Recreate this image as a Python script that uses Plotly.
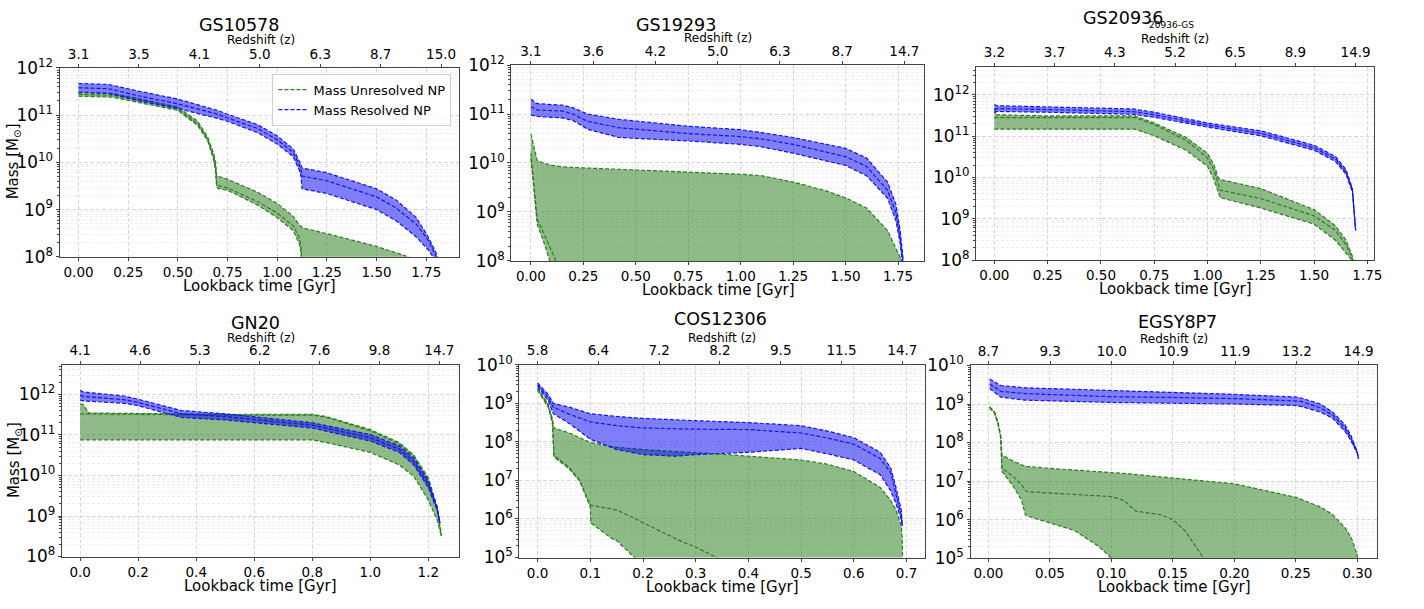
import numpy as np
import plotly.graph_objects as go

W, H = 1424, 609
FONT = "DejaVu Sans"

# ---------------- data (log10 of mass in Msun vs lookback time in Gyr) ----------------
# GS10578
t1g = [0, 0.17, 0.3, 0.5, 0.6, 0.65, 0.68, 0.69, 0.695, 0.70, 0.75, 0.9, 1.0, 1.08, 1.11, 1.12, 1.125, 1.13, 1.25, 1.5, 1.66, 1.75]
g1_hi = [11.48, 11.46, 11.35, 11.17, 10.87, 10.53, 10.19, 10.0, 9.72, 9.71, 9.64, 9.37, 9.13, 8.86, 8.68, 8.63, 8.62, 8.61, 8.49, 8.22, 8.0, 7.85]
g1_med = [11.44, 11.42, 11.31, 11.13, 10.82, 10.49, 10.12, 9.9, 9.55, 9.51, 9.46, 9.17, 8.93, 8.66, 8.42, 8.2, 7.6, 6.0, 5, 5, 5, 5]
g1_lo = [11.40, 11.38, 11.27, 11.10, 10.78, 10.46, 10.05, 9.8, 9.47, 9.45, 9.41, 9.10, 8.83, 8.56, 8.29, 8.1, 7.5, 6.0, 5, 5, 5, 5]
t1b = [0, 0.15, 0.3, 0.5, 0.7, 0.75, 0.9, 1.0, 1.08, 1.11, 1.12, 1.125, 1.25, 1.5, 1.6, 1.7, 1.76, 1.8, 1.82]
b1_hi = [11.67, 11.65, 11.51, 11.34, 11.10, 11.02, 10.80, 10.56, 10.29, 10.05, 9.95, 9.88, 9.78, 9.44, 9.20, 8.83, 8.42, 8.08, 7.8]
b1_med = [11.58, 11.56, 11.41, 11.24, 11.02, 10.94, 10.72, 10.48, 10.21, 9.95, 9.82, 9.71, 9.61, 9.27, 9.03, 8.69, 8.35, 8.0, 7.6]
b1_lo = [11.49, 11.46, 11.31, 11.14, 10.93, 10.87, 10.63, 10.39, 10.12, 9.85, 9.7, 9.44, 9.34, 9.0, 8.76, 8.42, 8.15, 7.9, 7.4]
z1_labels = ["3.1", "3.5", "4.1", "5.0", "6.3", "8.7", "15.0"]
T1 = 1.825

# GS19293
t2g = [0, 0.03, 0.06, 0.09, 0.12, 0.15, 0.25, 0.5, 0.75, 1.0, 1.1, 1.25, 1.4, 1.5, 1.6, 1.7, 1.75, 1.77, 1.78]
g2_hi = [10.59, 10.05, 10.0, 9.96, 9.94, 9.92, 9.90, 9.86, 9.82, 9.77, 9.74, 9.61, 9.44, 9.29, 9.08, 8.62, 8.16, 8.0, 7.5]
g2_med = [10.2, 8.85, 8.58, 8.3, 8.0, 7.7, 6.5, 5, 5, 5, 5, 5, 5, 5, 5, 5, 5, 5, 5]
g2_lo = [10.1, 8.75, 8.4, 8.0, 7.4, 7.0, 6.0, 5, 5, 5, 5, 5, 5, 5, 5, 5, 5, 5, 5]
t2b = [0, 0.03, 0.15, 0.2, 0.27, 0.42, 0.75, 1.0, 1.1, 1.25, 1.5, 1.6, 1.7, 1.74, 1.76, 1.775, 1.78]
b2_hi = [11.30, 11.21, 11.18, 11.13, 11.0, 10.89, 10.75, 10.68, 10.62, 10.52, 10.30, 10.10, 9.61, 9.15, 8.62, 8.1, 7.8]
b2_med = [11.15, 11.08, 11.06, 11.0, 10.85, 10.72, 10.6, 10.54, 10.49, 10.38, 10.13, 9.93, 9.44, 8.98, 8.49, 8.0, 7.7]
b2_lo = [10.98, 10.95, 10.92, 10.87, 10.69, 10.52, 10.45, 10.38, 10.33, 10.20, 9.95, 9.74, 9.28, 8.82, 8.36, 7.9, 7.6]
z2_labels = ["3.1", "3.6", "4.2", "5.0", "6.3", "8.7", "14.7"]
T2 = 1.78

# GS20936
t3g = [0, 0.01, 0.25, 0.5, 0.66, 0.75, 0.9, 1.0, 1.03, 1.05, 1.06, 1.25, 1.5, 1.6, 1.65, 1.68, 1.695]
g3_hi = [11.67, 11.52, 11.49, 11.49, 11.49, 11.32, 10.97, 10.58, 10.31, 10.0, 9.95, 9.73, 9.22, 8.83, 8.48, 8.09, 7.7]
g3_med = [11.45, 11.45, 11.45, 11.45, 11.45, 11.28, 10.90, 10.47, 10.19, 9.85, 9.69, 9.49, 9.07, 8.72, 8.37, 8.02, 7.6]
g3_lo = [11.17, 11.17, 11.17, 11.17, 11.17, 11.01, 10.66, 10.27, 9.96, 9.65, 9.51, 9.26, 8.87, 8.48, 8.17, 7.98, 7.5]
t3b = [0, 0.01, 0.25, 0.5, 0.65, 0.75, 1.0, 1.25, 1.5, 1.6, 1.65, 1.68, 1.69, 1.695]
b3_hi = [11.77, 11.74, 11.71, 11.69, 11.66, 11.58, 11.32, 11.13, 10.78, 10.51, 10.19, 9.73, 9.18, 8.72]
b3_med = [11.66, 11.67, 11.645, 11.625, 11.595, 11.52, 11.27, 11.07, 10.72, 10.45, 10.13, 9.69, 9.16, 8.72]
b3_lo = [11.56, 11.60, 11.58, 11.56, 11.53, 11.46, 11.22, 11.01, 10.66, 10.39, 10.08, 9.65, 9.14, 8.72]
z3_labels = ["3.2", "3.7", "4.3", "5.2", "6.5", "8.9", "14.9"]
T3 = 1.695

# GN20
t4g = [0, 0.01, 0.03, 0.35, 0.5, 0.8, 0.85, 1.0, 1.1, 1.15, 1.2, 1.23, 1.245]
g4_hi = [11.76, 11.75, 11.54, 11.52, 11.51, 11.51, 11.45, 11.13, 10.81, 10.50, 9.94, 9.23, 8.51]
g4_med = [11.52, 11.52, 11.52, 11.50, 11.49, 11.49, 11.43, 11.10, 10.78, 10.47, 9.90, 9.2, 8.51]
g4_lo = [10.88, 10.88, 10.88, 10.88, 10.88, 10.88, 10.81, 10.57, 10.26, 9.98, 9.39, 8.91, 8.51]
t4b = [0, 0.01, 0.15, 0.2, 0.35, 0.5, 0.8, 1.0, 1.1, 1.15, 1.2, 1.23, 1.24]
b4_hi = [12.10, 12.06, 11.96, 11.88, 11.60, 11.52, 11.30, 11.01, 10.73, 10.42, 9.86, 9.23, 8.83]
b4_med = [11.98, 11.95, 11.87, 11.80, 11.52, 11.45, 11.24, 10.93, 10.65, 10.34, 9.78, 9.19, 8.83]
b4_lo = [11.86, 11.84, 11.78, 11.72, 11.43, 11.37, 11.17, 10.85, 10.57, 10.26, 9.70, 9.15, 8.83]
z4_labels = ["4.1", "4.6", "5.3", "6.2", "7.6", "9.8", "14.7"]
T4 = 1.238

# COS12306
t5g = [0, 0.02, 0.028, 0.031, 0.06, 0.08, 0.095, 0.1, 0.101, 0.14, 0.15, 0.184, 0.2, 0.27, 0.3, 0.34, 0.4, 0.5, 0.55, 0.6, 0.65, 0.67, 0.68, 0.69, 0.692, 0.693]
g5_hi = [9.40, 8.98, 8.60, 8.36, 8.23, 8.10, 8.00, 7.98, 7.98, 7.88, 7.86, 7.82, 7.80, 7.74, 7.72, 7.69, 7.63, 7.53, 7.42, 7.23, 6.82, 6.48, 6.23, 5.82, 5.48, 4.5]
g5_med = [9.37, 8.94, 8.55, 7.65, 7.34, 7.0, 6.5, 6.38, 6.36, 6.26, 6.23, 6.02, 5.9, 5.44, 5.27, 5.0, 4.6, 4, 4, 4, 4, 4, 4, 4, 4, 4]
g5_lo = [9.34, 8.90, 8.50, 7.61, 7.30, 6.98, 6.48, 6.30, 5.90, 5.50, 5.44, 5.00, 4.85, 4.3, 4, 4, 4, 4, 4, 4, 4, 4, 4, 4, 4, 4]
t5b = [0, 0.02, 0.03, 0.06, 0.1, 0.15, 0.2, 0.26, 0.3, 0.4, 0.5, 0.55, 0.6, 0.65, 0.67, 0.68, 0.69, 0.692]
b5_hi = [9.53, 9.23, 9.0, 8.90, 8.73, 8.66, 8.61, 8.57, 8.55, 8.5, 8.42, 8.28, 8.11, 7.73, 7.32, 6.82, 6.23, 5.82]
b5_med = [9.48, 9.15, 8.9, 8.72, 8.52, 8.42, 8.36, 8.34, 8.33, 8.32, 8.23, 8.1, 7.94, 7.57, 7.2, 6.65, 6.1, 5.82]
b5_lo = [9.44, 9.07, 8.73, 8.48, 8.07, 7.8, 7.67, 7.63, 7.67, 7.73, 7.83, 7.69, 7.53, 7.15, 6.73, 6.4, 5.98, 5.82]
z5_labels = ["5.8", "6.4", "7.2", "8.2", "9.5", "11.5", "14.7"]
T5 = 0.692

# EGSY8P7
t6g = [0.001, 0.005, 0.008, 0.010, 0.011, 0.02, 0.027, 0.03, 0.031, 0.05, 0.07, 0.09, 0.1, 0.11, 0.12, 0.14, 0.15, 0.16, 0.17, 0.175, 0.18, 0.2, 0.25, 0.27, 0.28, 0.29, 0.295, 0.3, 0.301]
g6_hi = [8.93, 8.79, 8.50, 8.17, 7.68, 7.52, 7.42, 7.38, 7.38, 7.33, 7.29, 7.25, 7.23, 7.20, 7.17, 7.11, 7.08, 7.05, 7.02, 7.00, 6.99, 6.93, 6.58, 6.33, 6.13, 5.79, 5.54, 5.08, 4.5]
g6_med = [8.92, 8.78, 8.48, 8.15, 7.33, 7.13, 6.90, 6.75, 6.73, 6.69, 6.65, 6.62, 6.60, 6.50, 6.22, 6.13, 6.00, 5.71, 5.25, 5.00, 4.5, 4, 4, 4, 4, 4, 4, 4, 4]
g6_lo = [8.90, 8.76, 8.45, 8.12, 7.25, 6.88, 6.50, 6.13, 6.10, 5.92, 5.72, 5.30, 5.00, 4.6, 4.2, 4, 4, 4, 4, 4, 4, 4, 4, 4, 4, 4, 4, 4, 4]
t6b = [0.001, 0.01, 0.03, 0.1, 0.15, 0.2, 0.25, 0.255, 0.27, 0.28, 0.29, 0.295, 0.3, 0.301]
b6_hi = [9.65, 9.48, 9.42, 9.35, 9.29, 9.25, 9.18, 9.15, 9.0, 8.79, 8.46, 8.17, 7.75, 7.58]
b6_med = [9.52, 9.33, 9.27, 9.19, 9.17, 9.14, 9.08, 9.06, 8.9, 8.71, 8.38, 8.1, 7.73, 7.58]
b6_lo = [9.40, 9.18, 9.10, 9.04, 9.02, 9.0, 8.96, 8.93, 8.79, 8.63, 8.29, 8.04, 7.71, 7.58]
z6_labels = ["8.7", "9.3", "10.0", "10.9", "11.9", "13.2", "14.9"]
T6 = 0.301

names = ["GS10578", "GS19293", "GS20936", "GN20", "COS12306", "EGSY8P7"]

# ---------------- layout geometry (pixels) ----------------
panels = [
    dict(tg=t1g, glo=g1_lo, gmed=g1_med, ghi=g1_hi, tb=t1b, blo=b1_lo, bmed=b1_med, bhi=b1_hi,
         zl=z1_labels, T=T1, xr=[-0.095, 1.917], yr=[8, 12], dt=0.25, fmt=".2f",
         box=(60, 58, 462, 254), title=(240, 13), zlab=(262, 29), xlab=(261, 284), ylab=(13, 155)),
    dict(tg=t2g, glo=g2_lo, gmed=g2_med, ghi=g2_hi, tb=t2b, blo=b2_lo, bmed=b2_med, bhi=b2_hi,
         zl=z2_labels, T=T2, xr=[-0.093, 1.874], yr=[8, 12], dt=0.25, fmt=".2f",
         box=(514.3, 55, 929.3, 258.3), title=(680, 13), zlab=(722, 26.5), xlab=(723, 288), ylab=None),
    dict(tg=t3g, glo=g3_lo, gmed=g3_med, ghi=g3_hi, tb=t3b, blo=b3_lo, bmed=b3_med, bhi=b3_hi,
         zl=z3_labels, T=T3, xr=[-0.0855, 1.781], yr=[8, 12.685], dt=0.25, fmt=".2f",
         box=(981.7, 56.7, 1381.7, 257.3), title=(1129, 6), zlab=(1182, 28.5), xlab=(1182, 287), ylab=None),
    dict(tg=t4g, glo=g4_lo, gmed=g4_med, ghi=g4_hi, tb=t4b, blo=b4_lo, bmed=b4_med, bhi=b4_hi,
         zl=z4_labels, T=T4, xr=[-0.0629, 1.306], yr=[8, 12.73], dt=0.2, fmt=".1f",
         box=(62.3, 366, 461.7, 565), title=(257, 323), zlab=(262, 338), xlab=(262, 595), ylab=(14, 465)),
    dict(tg=t5g, glo=g5_lo, gmed=g5_med, ghi=g5_hi, tb=t5b, blo=b5_lo, bmed=b5_med, bhi=b5_hi,
         zl=z5_labels, T=T5, xr=[-0.0346, 0.7346], yr=[5, 10], dt=0.1, fmt=".1f",
         box=(522.3, 366, 930, 566), title=(725, 319), zlab=(726, 338), xlab=(727, 597), ylab=None),
    dict(tg=t6g, glo=g6_lo, gmed=g6_med, ghi=g6_hi, tb=t6b, blo=b6_lo, bmed=b6_med, bhi=b6_hi,
         zl=z6_labels, T=T6, xr=[-0.01456, 0.3156], yr=[5, 10], dt=0.05, fmt=".2f",
         box=(976, 366.7, 1384.3, 566.7), title=(1184, 322), zlab=(1181, 339), xlab=(1181, 597), ylab=None),
]

G_LINE = "rgb(45,125,35)"
G_FILL = "rgba(30,120,15,0.5)"
B_LINE = "rgb(20,20,235)"
B_FILL = "rgba(0,0,245,0.5)"
DASH = "4px,2px"
AXC = "#444444"
TICKSZ = 13.5

fig = go.Figure()
layout = dict(width=W, height=H, autosize=False, margin=dict(l=0, r=0, t=0, b=0),
              paper_bgcolor="white", plot_bgcolor="white",
              font=dict(family=FONT, color="black"), annotations=[])


def ann(text, px, py, size, angle=0):
    layout["annotations"].append(dict(
        text=text, x=px / W, y=1 - py / H, xref="paper", yref="paper",
        xanchor="center", yanchor="middle", showarrow=False, textangle=angle,
        font=dict(family=FONT, size=size, color="black")))


for i, p in enumerate(panels):
    n = i + 1
    sx = "" if n == 1 else str(n)
    xk, yk, tk = "x" + sx, "y" + sx, "x" + str(n + 6)
    x0, y0, x1, y1 = p["box"]

    def tr(t, v, fill=None, fc=None, color=G_LINE, name=None, show=False, xa=xk):
        fig.add_trace(go.Scatter(
            x=t, y=10 ** np.array(v, dtype=float), mode="lines", xaxis=xa, yaxis=yk,
            line=dict(color=color, width=1.2, dash=DASH), fill=fill, fillcolor=fc,
            name=name, showlegend=show, hoverinfo="skip"))

    tr(p["tg"], p["glo"], color=G_LINE)
    tr(p["tg"], p["ghi"], fill="tonexty", fc=G_FILL, color=G_LINE)
    tr(p["tg"], p["gmed"], color=G_LINE, name="Mass Unresolved NP", show=(n == 1))
    tr(p["tb"], p["blo"], color=B_LINE)
    tr(p["tb"], p["bhi"], fill="tonexty", fc=B_FILL, color=B_LINE)
    tr(p["tb"], p["bmed"], color=B_LINE, name="Mass Resolved NP", show=(n == 1), xa=tk)

    dom_x = [x0 / W, x1 / W]
    dom_y = [1 - y1 / H, 1 - y0 / H]
    layout["xaxis" + sx] = dict(
        domain=dom_x, anchor=yk, range=p["xr"], dtick=p["dt"], tick0=0, tickformat=p["fmt"],
        showline=True, mirror=True, linecolor=AXC, linewidth=1,
        ticks="outside", ticklen=3, tickcolor=AXC, tickfont=dict(size=TICKSZ),
        showgrid=True, gridcolor="#dadada", griddash="4px,2px", gridwidth=0.8, zeroline=False)
    layout["yaxis" + sx] = dict(
        domain=dom_y, anchor=xk, type="log", range=p["yr"], dtick=1,
        exponentformat="power", showexponent="all",
        showline=True, mirror=True, linecolor=AXC, linewidth=1,
        ticks="outside", ticklen=3, tickcolor=AXC, tickfont=dict(size=TICKSZ),
        showgrid=True, gridcolor="#dadada", griddash="4px,2px", gridwidth=0.8, zeroline=False,
        minor=dict(dtick="D1", ticks="outside", ticklen=2, tickcolor=AXC,
                   showgrid=True, gridcolor="#efefef", griddash="3px,2px", gridwidth=0.5))
    layout["xaxis" + str(n + 6)] = dict(
        overlaying=xk, side="top", anchor=yk, range=p["xr"],
        tickmode="array", tickvals=list(np.linspace(0, p["T"], 7)), ticktext=p["zl"],
        ticks="outside", ticklen=3, tickcolor=AXC, tickfont=dict(size=TICKSZ),
        showgrid=False, showline=True, linecolor=AXC, zeroline=False)

    ann(names[i], p["title"][0], p["title"][1], 17.5)
    ann("Redshift (z)", p["zlab"][0], p["zlab"][1], 12)
    ann("Lookback time [Gyr]", p["xlab"][0], p["xlab"][1], 15)
    if p["ylab"] is not None:
        ann("Mass [M<sub>⊙</sub>]", p["ylab"][0], p["ylab"][1], 15, angle=-90)

ann("20936-GS", 1178, 14, 9)

layout["legend"] = dict(
    x=454 / W, xanchor="right", y=1 - 64 / H, yanchor="top", traceorder="normal",
    bgcolor="rgba(255,255,255,0.85)", bordercolor="#d0d0d0", borderwidth=1,
    font=dict(family=FONT, size=13, color="black"), tracegroupgap=0)

fig.update_layout(**layout)
fig.write_html("out.html")
